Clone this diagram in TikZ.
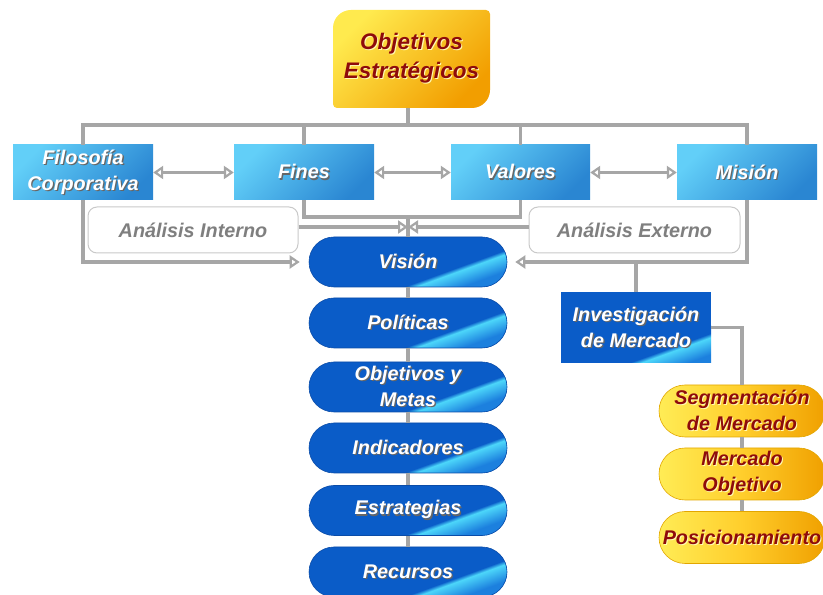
\documentclass[tikz,border=0pt]{standalone}
\usepackage{fontspec}
\setmainfont{Liberation Sans}
\usetikzlibrary{arrows.meta,calc}

\definecolor{conngray}{HTML}{A6A6A6}
\definecolor{rowtop}{HTML}{62CFF8}
\definecolor{rowbot}{HTML}{2A86D2}
\definecolor{pillblue}{HTML}{0A5CC8}
\definecolor{pillmid}{HTML}{1C80DE}
\definecolor{streak}{HTML}{4CD6FA}
\definecolor{pilledge}{HTML}{0A4CA8}
\definecolor{ylA}{HTML}{FFEC55}
\definecolor{ylB}{HTML}{FFCE2C}
\definecolor{ylC}{HTML}{F0A000}
\definecolor{yedge}{HTML}{E2A600}
\definecolor{objtop}{HTML}{FFEA4E}
\definecolor{objbot}{HTML}{F29E00}
\definecolor{textred}{HTML}{8E0B0B}
\definecolor{softgray}{HTML}{7F7F7F}
\definecolor{boxline}{HTML}{C9C9C9}

% glossy highlight: medium blue below a bright line, base blue above it
\pgfdeclareverticalshading{gloss}{100bp}{color(0bp)=(pillmid); color(48bp)=(pillmid);
  color(64bp)=(streak); color(68bp)=(pillblue); color(100bp)=(pillblue)}

% white text with a dark drop shadow, red text with a pale one
\newcommand\shw[1]{\leavevmode\rlap{\kern1.3pt\raisebox{-1.3pt}{\color{black!60}#1}}#1}
\newcommand\shr[1]{\leavevmode\rlap{\kern1pt\raisebox{-1pt}{\color{white!70!yellow}#1}}#1}

\tikzset{
  link/.style={draw=conngray, line width=3.2pt},
  opentip/.tip={Triangle[fill=white,length=10pt,width=13pt,line width=2.2pt]},
  tip/.style={-opentip},
  twotips/.style={opentip-opentip},
  txt/.style={font=\bfseries\itshape\fontsize{19.8}{26}\selectfont, align=center, inner sep=0pt},
  rowbox/.style={txt, rectangle, minimum width=140pt, minimum height=55pt,
    top color=rowtop, bottom color=rowbot, shading angle=45, text=white},
  % shine across the node: #1 = pivot on the highlight line, #2 = its slope
  shine/.style 2 args={path picture={
      \begin{scope}[transform canvas={rotate around={#2:#1}}]
        \shade[shading=gloss] ($#1+(-220,-40)$) rectangle ($#1+(90,10)$);
      \end{scope}}},
  invbox/.style={txt, rectangle, minimum width=150pt, minimum height=71pt,
    fill=pillblue, text=white,
    shine={($(path picture bounding box.south east)+(-38,13)$)}{20}},
  notebox/.style={txt, rectangle, rounded corners=9pt, minimum width=210pt, minimum height=46pt,
    draw=boxline, line width=1pt, fill=white, text=softgray},
  bluepill/.style={txt, rectangle, rounded corners=25pt, minimum width=198pt, minimum height=50pt,
    fill=pillblue, draw=pilledge, line width=0.6pt, text=white,
    shine={($(path picture bounding box.east)+(-29,-1)$)}{20}},
  yellowpill/.style={txt, rectangle, rounded corners=26pt, minimum width=166pt, minimum height=52pt,
    left color=ylA, right color=ylC, middle color=ylB, draw=yedge, line width=0.6pt, text=textred},
}

\begin{document}
\begin{tikzpicture}[x=1pt,y=1pt]
\useasboundingbox (0,0) rectangle (823,595);

% top card: large round corners top-left and bottom-right
\shade[top color=objtop, bottom color=objbot, shading angle=45]
  (333,491) -- (333,567) arc[start angle=180,end angle=90,radius=18pt]
  -- (486,585) arc[start angle=90,end angle=0,radius=4pt]
  -- (490,505) arc[start angle=0,end angle=-90,radius=18pt]
  -- (337,487) arc[start angle=270,end angle=180,radius=4pt] -- cycle;
\node[txt, text=textred, font=\bfseries\itshape\fontsize{22.5}{29}\selectfont,
      minimum width=157pt, minimum height=98pt] (obj) at (411.5,536)
  {\shr{Objetivos}\\\shr{Estratégicos}};

% row of blue boxes
\node[rowbox] (filo) at (83,422.5) {\shw{Filosofía}\\\shw{Corporativa}};
\node[rowbox] (fin)  at (304,422.5) {\shw{Fines}};
\node[rowbox, minimum width=139pt] (val) at (520.5,422.5) {\shw{Valores}};
\node[rowbox] (mis)  at (747,422.5) {\shw{Misión}};

% analysis notes
\node[notebox] (ai) at (193,365) {Análisis Interno};
\node[notebox, minimum width=211pt] (ae) at (634.5,365) {Análisis Externo};

% central column
\node[bluepill] (vis) at (408,333) {\shw{Visión}};
\node[bluepill] (pol) at (408,272) {\shw{Políticas}};
\node[bluepill] (obm) at (408,208) {\shw{Objetivos y}\\\shw{Metas}};
\node[bluepill] (ind) at (408,147) {\shw{Indicadores}};
\node[bluepill] (est) at (408,84.5) {\shw{Estrategias}};
\node[bluepill] (rec) at (408,23) {\shw{Recursos}};

% market branch
\node[invbox] (inv) at (636,267.5) {\shw{Investigación}\\\shw{de Mercado}};
\node[yellowpill] (seg) at (742,184) {\shr{Segmentación}\\\shr{de Mercado}};
\node[yellowpill] (mer) at (742,121) {\shr{Mercado}\\\shr{Objetivo}};
\node[yellowpill] (pos) at (742,57.5) {\shr{Posicionamiento}};

\coordinate (bus) at (408,470);
\coordinate (mid) at (408,378);

% bus from the top card to the four boxes
\draw[link] (bus |- obj.south) -- (bus);
\draw[link] (filo.north) |- (mis.north |- bus) -- (mis.north);
\draw[link] (fin.north) -- (fin.north |- bus);
\draw[link] (val.north) -- (val.north |- bus);

% two-way links between the boxes
\draw[link, twotips] (filo.east) -- (fin.west);
\draw[link, twotips] (fin.east) -- (val.west);
\draw[link, twotips] (val.east) -- (mis.west);

% Fines and Valores join and drop to Visión
\draw[link] (fin.south) |- (mid) -| (val.south);
\draw[link] (mid) -- (vis.north);
\draw[link, tip] (ai.east |- 0,368) -- (vis.north |- 0,368);
\draw[link, tip] (ae.west |- 0,368) -- (vis.north |- 0,368);

% side feeds into Visión
\draw[link, tip, shorten >=9pt] (filo.south) |- (vis.west);
\draw[link, tip, shorten >=8pt] (mis.south) |- (vis.east);
\draw[link] (inv.north) -- (inv.north |- vis.east);

% market research chain
\draw[link] (inv.east) -| (seg.north);
\draw[link] (seg) -- (mer);
\draw[link] (mer) -- (pos);

% central chain
\draw[link] (vis) -- (pol);
\draw[link] (pol) -- (obm);
\draw[link] (obm) -- (ind);
\draw[link] (ind) -- (est);
\draw[link] (est) -- (rec);
\end{tikzpicture}
\end{document}
